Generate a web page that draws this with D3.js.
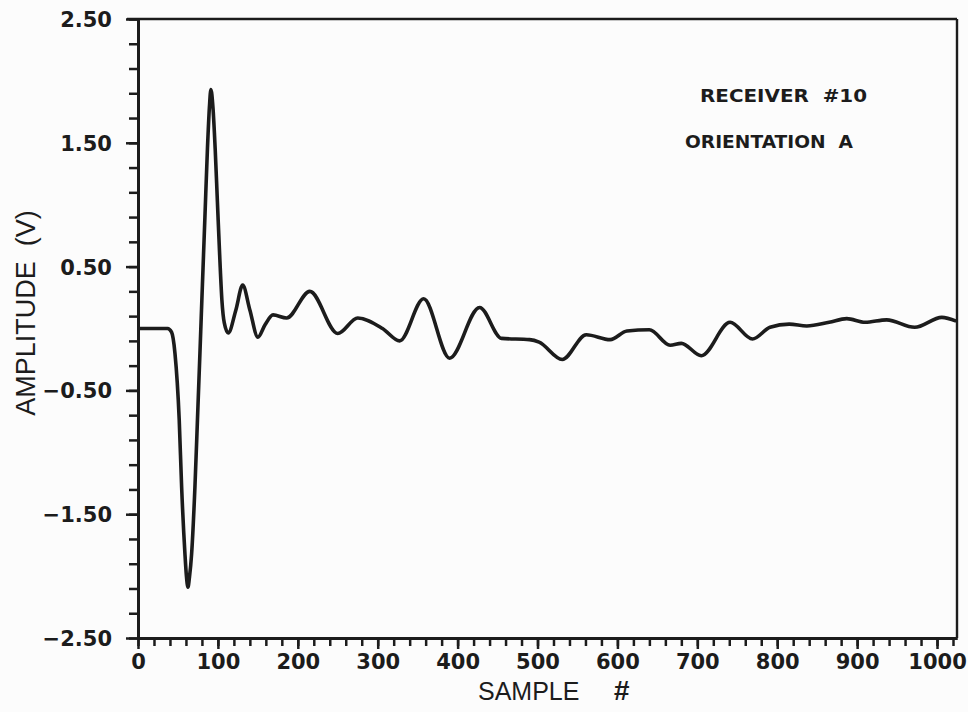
<!DOCTYPE html>
<html>
<head>
<meta charset="utf-8">
<script src="https://cdn.jsdelivr.net/npm/d3@7"></script>
<style>
  html, body { margin: 0; padding: 0; background: #fcfcfc; }
  svg { display: block; }
</style>
</head>
<body>
<svg id="chart" width="968" height="712"></svg>
<script>
// ---- data ----
const samples = [0, 37, 42, 46.25, 51.6, 54.6, 58.75, 60.6, 62.5, 64.4, 67.1, 71.25, 74.4, 77.5, 80.6, 83.75, 86.9, 89.4, 91.25,
  93.75, 96.6, 99.4, 102.5, 105, 108, 112.9,
  122.5, 131, 140, 150, 159, 169, 186, 215, 250, 275, 306, 327.5, 357.5, 390, 427.5, 455, 490, 502, 531,
  561, 591, 612, 640, 666, 680, 705, 741, 769, 791, 815, 837, 865, 887, 910, 937, 972, 1006, 1024];
const amplitudes = [0, 0, -0.03, -0.2, -0.74, -1.28, -1.82, -2.0, -2.09, -2.01, -1.82, -1.28, -0.74, -0.2, 0.35, 0.9, 1.45, 1.79, 1.93,
  1.79, 1.45, 1.02, 0.55, 0.23, 0.045, -0.036,
  0.15, 0.35, 0.15, -0.07, 0.03, 0.11, 0.085, 0.30, -0.04, 0.085, 0.0, -0.10, 0.24, -0.24, 0.17, -0.08, -0.09, -0.11, -0.25,
  -0.05, -0.09, -0.02, -0.01, -0.135, -0.12, -0.22, 0.05, -0.085, 0.01, 0.035, 0.02, 0.05, 0.08, 0.05, 0.07, 0.01, 0.09, 0.06];

const yMajorTicks = [2.5, 1.5, 0.5, -0.5, -1.5, -2.5];
const yTickLabels = ["2.50", "1.50", "0.50", "\u22120.50", "\u22121.50", "\u22122.50"];
const yMinorTicks = [-2.5, -2.3, -2.1, -1.9, -1.7, -1.5, -1.3, -1.1, -0.9, -0.7, -0.5, -0.3, -0.1,
  0.1, 0.3, 0.5, 0.7, 0.9, 1.1, 1.3, 1.5, 1.7, 1.9, 2.1, 2.3, 2.5];
const xMajorTicks = [0, 100, 200, 300, 400, 500, 600, 700, 800, 900, 1000];
const xTickLabels = ["0", "100", "200", "300", "400", "500", "600", "700", "800", "900", "1000"];
const xMinorTicks = [0, 20, 40, 60, 80, 100, 120, 140, 160, 180, 200, 220, 240, 260, 280, 300, 320, 340, 360, 380,
  400, 420, 440, 460, 480, 500, 520, 540, 560, 580, 600, 620, 640, 660, 680, 700, 720, 740, 760, 780,
  800, 820, 840, 860, 880, 900, 920, 940, 960, 980, 1000, 1020];
const annotations = ["RECEIVER  #10", "ORIENTATION  A"];
const xTitle = "SAMPLE";
const xTitleMark = "#";
const yTitle = "AMPLITUDE  (V)";

// ---- layout ----
const svg = d3.select("#chart");
const plotL = 138, plotR = 957, plotT = 19, plotB = 638;
const x = d3.scaleLinear().domain([0, 1025]).range([plotL, plotR]);
const y = d3.scaleLinear().domain([-2.5, 2.5]).range([plotB, plotT]);
const ink = "#1c1c1c";

// frame: top and right border
svg.append("line").attr("x1", plotL - 11).attr("x2", plotR).attr("y1", plotT).attr("y2", plotT)
  .attr("stroke", ink).attr("stroke-width", 2.6);
svg.append("line").attr("x1", plotR).attr("x2", plotR).attr("y1", plotT).attr("y2", plotB)
  .attr("stroke", ink).attr("stroke-width", 2.4);

// minor ticks
svg.append("g").attr("transform", `translate(${plotL},0)`)
  .call(d3.axisLeft(y).tickValues(yMinorTicks).tickSize(9).tickSizeOuter(0).tickFormat(""));
svg.append("g").attr("transform", `translate(0,${plotB})`)
  .call(d3.axisBottom(x).tickValues(xMinorTicks).tickSize(8).tickSizeOuter(0).tickFormat(""));

// major ticks with labels
const yAxis = svg.append("g").attr("transform", `translate(${plotL},0)`)
  .call(d3.axisLeft(y).tickValues(yMajorTicks).tickSize(12).tickSizeOuter(0).tickPadding(14)
    .tickFormat((d, i) => yTickLabels[i]));
const xAxis = svg.append("g").attr("transform", `translate(0,${plotB})`)
  .call(d3.axisBottom(x).tickValues(xMajorTicks).tickSize(11).tickSizeOuter(0).tickPadding(5)
    .tickFormat((d, i) => xTickLabels[i]));

svg.selectAll(".domain").attr("stroke", ink).attr("stroke-width", 3);
svg.selectAll(".tick line").attr("stroke", ink).attr("stroke-width", 2.5);
svg.selectAll(".tick text")
  .attr("fill", ink)
  .style("font-family", "'DejaVu Sans', sans-serif")
  .style("font-weight", "bold")
  .style("font-size", "21px");
yAxis.selectAll(".tick text").attr("dy", "0.36em").attr("x", -26);
xAxis.selectAll(".tick text").attr("dy", "0.7em");

// signal
const pts = samples.map((s, i) => [s, amplitudes[i]]);
svg.append("path")
  .datum(pts)
  .attr("fill", "none")
  .attr("stroke", ink)
  .attr("stroke-width", 3.6)
  .attr("stroke-linejoin", "round")
  .attr("d", d3.line().x(d => x(d[0])).y(d => y(d[1])).curve(d3.curveMonotoneX));

// annotations
svg.append("text").attr("x", 700).attr("y", 102).text(annotations[0])
  .attr("fill", ink).style("font-family", "'DejaVu Sans', sans-serif").style("font-weight", "bold")
  .style("font-size", "18px").style("white-space", "pre").attr("textLength", 167).attr("lengthAdjust", "spacingAndGlyphs");
svg.append("text").attr("x", 685).attr("y", 148).text(annotations[1])
  .attr("fill", ink).style("font-family", "'DejaVu Sans', sans-serif").style("font-weight", "bold")
  .style("font-size", "18px").style("white-space", "pre").attr("textLength", 168).attr("lengthAdjust", "spacingAndGlyphs");

// axis titles
const xt = svg.append("text").attr("x", 478).attr("y", 700)
  .attr("fill", ink).style("font-family", "'Liberation Sans', Arial, sans-serif")
  .style("font-size", "25px");
xt.append("tspan").text(xTitle);
xt.append("tspan").attr("dx", 34).style("font-style", "italic").style("font-weight", "bold")
  .style("font-size", "28px").text(xTitleMark);

svg.append("text")
  .attr("transform", "translate(35,313) rotate(-90)")
  .attr("text-anchor", "middle")
  .attr("fill", ink).style("font-family", "'Liberation Sans', Arial, sans-serif")
  .style("font-size", "27px").style("white-space", "pre")
  .text(yTitle);
</script>
</body>
</html>
